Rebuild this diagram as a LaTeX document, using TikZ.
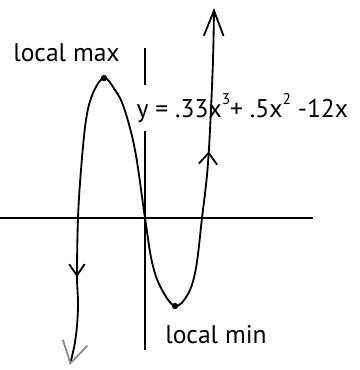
\documentclass[tikz,border=0pt]{standalone}
\usepackage{fontspec}
\setmainfont{PT Sans}
\usetikzlibrary{arrows.meta,decorations.markings}
\newcommand{\supnum}[1]{\raisebox{0.5em}{\fontsize{11}{11}\selectfont #1}}
\begin{document}
\begin{tikzpicture}[x=0.025cm,y=-0.025cm]
  \tikzset{
    lbl/.style={font=\fontsize{18.2}{20}\selectfont,inner sep=0pt},
    axis/.style={line width=1.3pt},
    pt/.style={circle,fill,inner sep=0pt,minimum size=4.5pt},
    crv/.style={line width=1.3pt,
      {Straight Barb[length=15pt,width=18pt,color=black!45]}-{Straight Barb[length=18pt,width=14pt]},
      postaction={decorate},
      decoration={markings,
        mark=at position 0.105 with {\arrowreversed{Straight Barb[length=8pt,width=11pt]}},
        mark=at position 0.83 with {\arrow{Straight Barb[length=8pt,width=13pt]}}}}
  }
  \useasboundingbox (0,0) rectangle (360,370);
  % axes
  \draw[axis] (0,218) -- (313,218);
  \draw[axis] (145,48) -- (145,350);
  % labels
  \node[lbl,anchor=base west] (maxlbl) at (13,61) {local max};
  \node[lbl,anchor=base west] (minlbl) at (165,343) {local min};
  \node[lbl,anchor=base west,fill=white,inner xsep=1pt,inner ysep=6pt] (eqn) at (135,117)
    {y = .33x\supnum{3}+ .5x\supnum{2} -12x};
  % the cubic
  \draw[crv] plot[smooth,tension=0.6] coordinates {
    (70,365) (76,335) (78,305) (77,275) (78,218) (81,170) (86,120) (93,93)
    (104,78) (115,90) (124,108) (135,150) (145,218) (152,262) (161,288)
    (175,306) (188,294) (196,268) (202,218) (207,175) (210,130) (213,60) (214,8)};
  \node[pt] (max) at (104,78) {};
  \node[pt] (min) at (175,306) {};
\end{tikzpicture}
\end{document}
